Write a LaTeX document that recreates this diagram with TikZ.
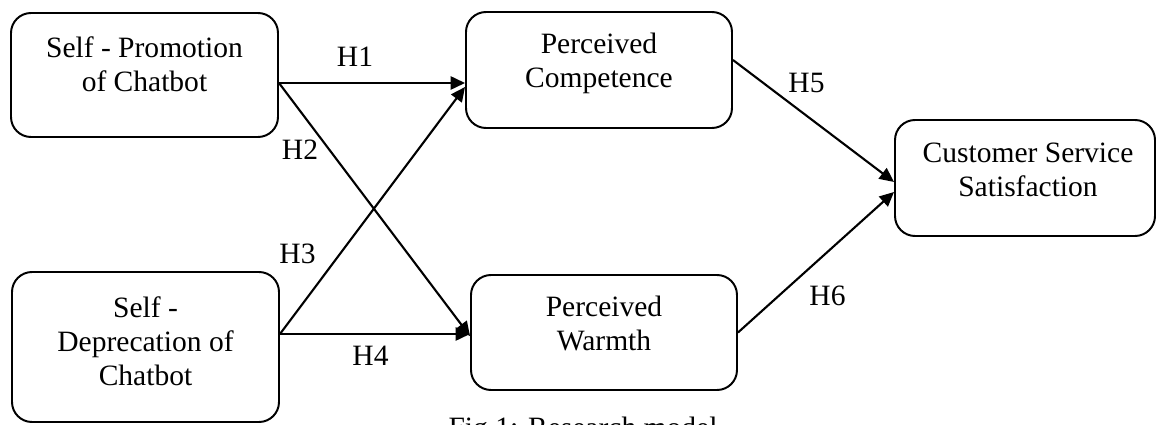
\documentclass[tikz,border=0pt]{standalone}
\usepackage{fontspec}
\setmainfont{Liberation Serif}
\usetikzlibrary{arrows.meta, positioning}

\begin{document}
\begin{tikzpicture}[
    box/.style={rectangle, draw, rounded corners=0.5cm, line width=1.4pt},
    txt/.style={align=center, font=\fontsize{21}{24.2}\selectfont},
    hyp/.style={font=\fontsize{21}{24.2}\selectfont},
    arrow/.style={-{Triangle[length=0.36cm, width=0.33cm]}, line width=1.5pt}
]
\useasboundingbox (0,0) rectangle (28.9,-10.625);
% boxes
\node[box, minimum width=6.675cm, minimum height=3.1cm] (promo) at (3.6125,-1.875) {};
\node[box, minimum width=6.675cm, minimum height=3.75cm] (depre) at (3.6375,-8.675) {};
\node[box, minimum width=6.65cm, minimum height=2.9cm] (comp) at (14.975,-1.75) {};
\node[box, minimum width=6.65cm, minimum height=2.875cm] (warm) at (15.1,-8.3125) {};
\node[box, minimum width=6.5cm, minimum height=2.9cm] (satis) at (25.625,-4.45) {};
% box texts
\node[txt] (promolbl) at (3.6125,-1.6) {Self - Promotion\\of Chatbot};
\node[txt] (deprelbl) at (3.6375,-8.525) {Self -\\Deprecation of\\Chatbot};
\node[txt] (complbl) at (14.975,-1.595) {Perceived\\Competence};
\node[txt] (warmlbl) at (15.1,-8.0875) {Perceived\\Warmth};
\node[txt] (satislbl) at (25.7,-4.2375) {Customer Service\\Satisfaction};
% connectors
\coordinate (pout) at ([yshift=-0.2cm]promo.east);
\coordinate (dout) at ([yshift=0.325cm]depre.east);
\draw[arrow] (pout) -- (pout -| comp.west);
\draw[arrow] (pout) -- ([yshift=-0.09cm]warm.west);
\draw[arrow] (dout) -- ([yshift=-0.425cm]comp.west);
\draw[arrow] (dout) -- (dout -| warm.west);
\draw[arrow] ([yshift=0.25cm]comp.east) -- ([yshift=-0.1cm]satis.west);
\draw[arrow] (warm.east) -- ([yshift=-0.35cm]satis.west);
% hypothesis labels
\node[hyp] (h1) at (8.875,-1.425) {H1};
\node[hyp] (h2) at (7.5,-3.75) {H2};
\node[hyp] (h3) at (7.4375,-6.35) {H3};
\node[hyp] (h4) at (9.2625,-8.9) {H4};
\node[hyp] (h5) at (20.1625,-2.075) {H5};
\node[hyp] (h6) at (20.6875,-7.4) {H6};
% caption, cut by the page edge
\node[hyp, anchor=base] (caption) at (14.575,-10.94) {Fig.1: Research model};
\end{tikzpicture}
\end{document}
